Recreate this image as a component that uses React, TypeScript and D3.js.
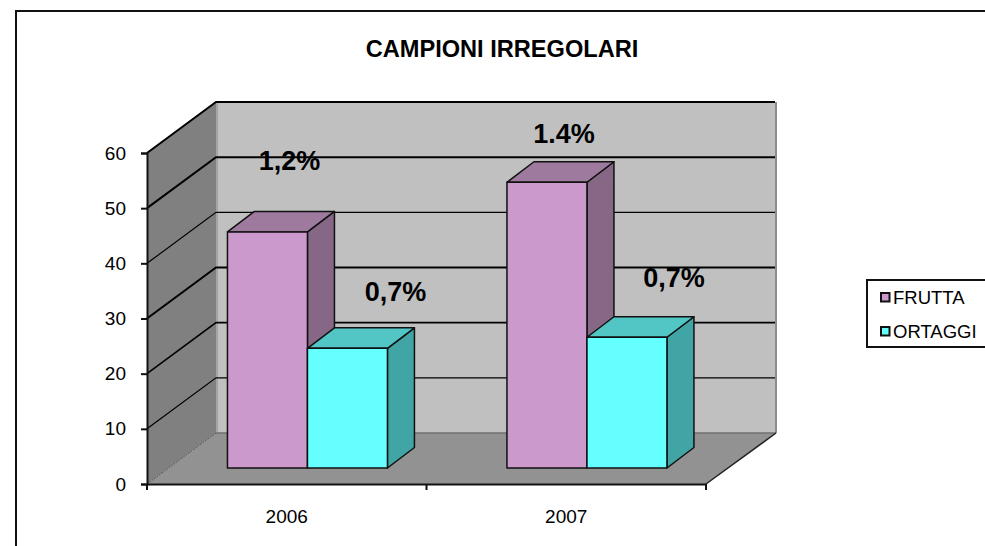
import React, { useEffect, useRef } from 'react';
import * as d3 from 'd3';

const years = ['2006', '2007'];
const seriesNames = ['FRUTTA', 'ORTAGGI'];
const frutta = [42.8, 51.8];
const ortaggi = [21.7, 23.7];
const yTicks = [0, 10, 20, 30, 40, 50, 60];
const valueLabels = ['1,2%', '0,7%', '1.4%', '0,7%'];

// label nudges are hand placed, same as in the original sheet
const labelNudge = [
  { x: 22, y: -62 },
  { x: 48, y: -47 },
  { x: 17, y: -39 },
  { x: 47, y: -50 },
];
// the scan renders the gridlines unevenly, 10 to 60
const gridWeights = [1.2, 1.6, 2, 1.2, 2, 2];

const front = ['#cc99cc', '#66ffff'];
const topFace = ['#9f7a9f', '#52c5c5'];
const sideFace = ['#866786', '#42a5a5'];
const FONT = '"Liberation Sans", Arial, sans-serif';

const App = () => {
  const ref = useRef<SVGSVGElement>(null);

  useEffect(() => {
    const svg = d3.select(ref.current);
    svg.selectAll('*').remove();

    const x0 = 147;
    const x1 = 706;
    const y0 = 484;
    const y60 = 153;
    const wallDx = 69;
    const wallDy = 51;
    const barDx = 27;
    const barDy = 20.5;
    const floorInset = 16; // bars stand this far up the floor

    const yScale = d3.scaleLinear().domain([0, 60]).range([y0, y60]);
    const xScale = d3.scaleBand().domain(years).range([x0, x1]);
    const inner = d3
      .scaleBand()
      .domain(seriesNames)
      .range([0, xScale.bandwidth()])
      .paddingInner(0)
      .paddingOuter(0.747);

    const poly = (pts: number[][]) => d3.line()(pts as [number, number][]) + 'Z';

    // frame
    svg
      .append('rect')
      .attr('x', 16)
      .attr('y', 11)
      .attr('width', 1100)
      .attr('height', 700)
      .attr('fill', '#fff')
      .attr('stroke', '#111')
      .attr('stroke-width', 2);

    svg
      .append('text')
      .attr('x', 502)
      .attr('y', 57)
      .attr('text-anchor', 'middle')
      .attr('font-family', FONT)
      .attr('font-weight', 'bold')
      .attr('font-size', 23.6)
      .text('CAMPIONI IRREGOLARI');

    // walls and floor
    const top = yScale(60);
    svg
      .append('path')
      .attr('d', poly([[x0 + wallDx, y0 - wallDy], [x1 + wallDx + 1, y0 - wallDy], [x1 + wallDx + 1, top - wallDy], [x0 + wallDx, top - wallDy]]))
      .attr('fill', '#c0c0c0');
    svg
      .append('path')
      .attr('d', poly([[x0, y0], [x0 + wallDx, y0 - wallDy], [x0 + wallDx, top - wallDy], [x0, top]]))
      .attr('fill', '#808080');
    svg
      .append('path')
      .attr('d', poly([[x0, y0], [x1, y0], [x1 + wallDx + 1, y0 - wallDy], [x0 + wallDx, y0 - wallDy]]))
      .attr('fill', '#929292');
    svg
      .append('line')
      .attr('x1', x1 + wallDx + 1)
      .attr('x2', x1 + wallDx + 1)
      .attr('y1', top - wallDy)
      .attr('y2', y0 - wallDy)
      .attr('stroke', '#8c8c8c')
      .attr('stroke-width', 2);
    svg
      .append('line')
      .attr('x1', x0 + wallDx + 1)
      .attr('x2', x0 + wallDx + 1)
      .attr('y1', top - wallDy)
      .attr('y2', y0 - wallDy)
      .attr('stroke', '#a4a4a4')
      .attr('stroke-width', 2);
    svg
      .append('line')
      .attr('x1', x0 + wallDx)
      .attr('x2', x1 + wallDx + 1)
      .attr('y1', y0 - wallDy)
      .attr('y2', y0 - wallDy)
      .attr('stroke', '#707070')
      .attr('stroke-width', 1.5);

    // gridlines, folded over the side wall
    yTicks
      .filter((t) => t > 0)
      .forEach((t, k) => {
        const y = yScale(t);
        svg
          .append('path')
          .attr('d', d3.line()([[x0, y], [x0 + wallDx, y - wallDy], [x1 + wallDx, y - wallDy]]))
          .attr('fill', 'none')
          .attr('stroke', '#000')
          .attr('stroke-width', gridWeights[k]);
      });
    svg
      .append('path')
      .attr('d', d3.line()([[x0, y0], [x0 + wallDx, y0 - wallDy]]))
      .attr('stroke', '#555')
      .attr('stroke-dasharray', '2 1')
      .attr('fill', 'none');
    svg
      .append('path')
      .attr('d', d3.line()([[x1, y0], [x1 + wallDx + 1, y0 - wallDy]]))
      .attr('stroke', '#222')
      .attr('stroke-width', 1.5)
      .attr('fill', 'none');

    // bars
    const series = [frutta, ortaggi];
    const base = y0 - floorInset;
    const shift = 20.7;
    const bw = inner.bandwidth();
    years.forEach((year, i) => {
      seriesNames.forEach((name, s) => {
        const left = (xScale(year) as number) + (inner(name) as number) + shift;
        const right = left + bw;
        const h = yScale(0) - yScale(series[s][i]);
        const t = base - h;
        const g = svg.append('g').attr('stroke', '#111').attr('stroke-width', 1.5).attr('stroke-linejoin', 'round');
        g.append('path')
          .attr('d', poly([[right, base], [right + barDx, base - barDy], [right + barDx, t - barDy], [right, t]]))
          .attr('fill', sideFace[s]);
        g.append('path')
          .attr('d', poly([[left, t], [right, t], [right + barDx, t - barDy], [left + barDx, t - barDy]]))
          .attr('fill', topFace[s]);
        g.append('rect')
          .attr('x', left)
          .attr('y', t)
          .attr('width', bw)
          .attr('height', h)
          .attr('fill', front[s]);
      });
    });

    // axes
    const axisY = svg
      .append('g')
      .attr('transform', `translate(${x0},0)`)
      .call(d3.axisLeft(yScale).tickValues(yTicks).tickSize(6).tickPadding(15));
    axisY.selectAll('text').attr('font-size', 19).attr('font-family', FONT).attr('fill', '#000');
    axisY.selectAll('line').attr('stroke', '#111').attr('stroke-width', 2);
    axisY.select('.domain').attr('stroke', '#111').attr('stroke-width', 2);

    const axisX = svg
      .append('g')
      .attr('transform', `translate(0,${y0})`)
      .call(d3.axisBottom(xScale).tickSize(0).tickPadding(26));
    axisX.selectAll('text').attr('font-size', 19).attr('font-family', FONT).attr('fill', '#000');
    axisX.select('.domain').attr('stroke', '#111').attr('stroke-width', 2);
    [x0, (x0 + x1) / 2, x1].forEach((x) => {
      axisX
        .append('line')
        .attr('x1', x)
        .attr('x2', x)
        .attr('y1', 0)
        .attr('y2', 6)
        .attr('stroke', '#111')
        .attr('stroke-width', 2);
    });

    // value labels
    years.forEach((year, i) => {
      seriesNames.forEach((name, s) => {
        const k = i * 2 + s;
        const cx = (xScale(year) as number) + (inner(name) as number) + shift + bw / 2;
        const t = base - (yScale(0) - yScale(series[s][i]));
        svg
          .append('text')
          .attr('x', cx + labelNudge[k].x)
          .attr('y', t + labelNudge[k].y)
          .attr('text-anchor', 'middle')
          .attr('font-family', FONT)
          .attr('font-weight', 'bold')
          .attr('font-size', 27)
          .text(valueLabels[k]);
      });
    });

    // legend
    const legend = svg.append('g');
    legend
      .append('rect')
      .attr('x', 867)
      .attr('y', 280)
      .attr('width', 200)
      .attr('height', 67)
      .attr('fill', '#fff')
      .attr('stroke', '#111')
      .attr('stroke-width', 2);
    seriesNames.forEach((name, s) => {
      const ly = 297 + s * 34;
      legend
        .append('rect')
        .attr('x', 881)
        .attr('y', ly - 4)
        .attr('width', 8.5)
        .attr('height', 8.5)
        .attr('fill', front[s])
        .attr('stroke', '#111')
        .attr('stroke-width', 2);
      legend
        .append('text')
        .attr('x', 893)
        .attr('y', ly + 7)
        .attr('font-family', FONT)
        .attr('font-size', 18.5)
        .text(name);
    });
  }, []);

  return (
    <svg
      ref={ref}
      width={985}
      height={546}
      style={{ position: 'absolute', left: 0, top: 0, background: '#fff' }}
    />
  );
};

export default App;
